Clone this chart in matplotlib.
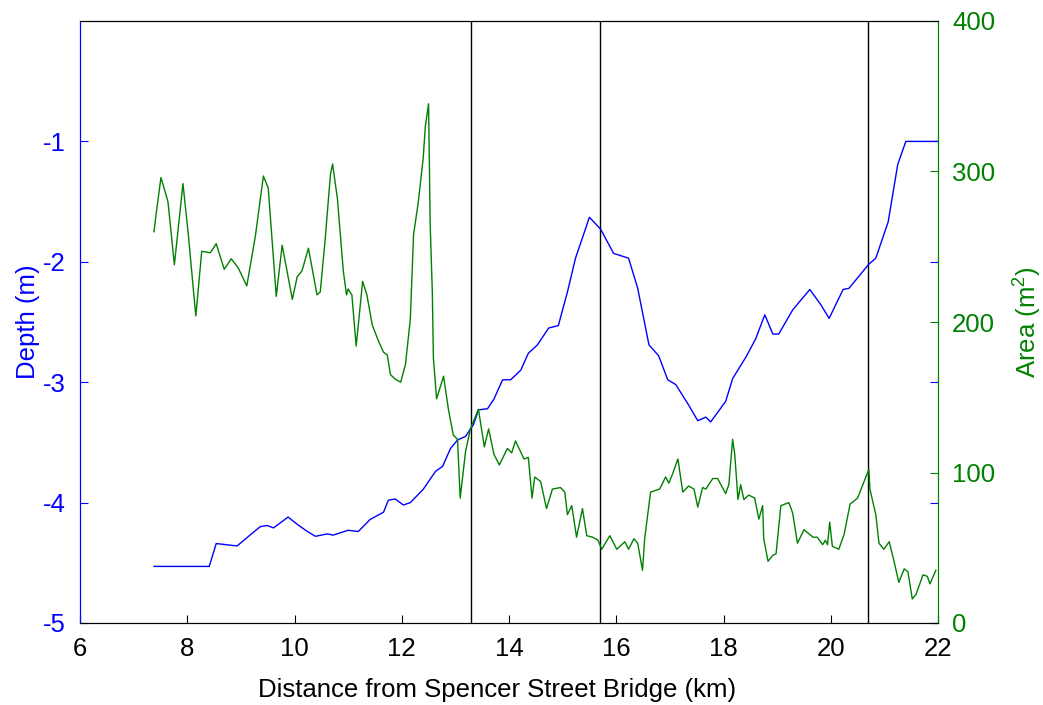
import matplotlib
matplotlib.use("Agg")
import matplotlib.pyplot as plt

plt.rcParams['font.family'] = ['Liberation Sans', 'DejaVu Sans']
plt.rcParams['mathtext.default'] = 'regular'
plt.rcParams['axes.unicode_minus'] = False

# depth profile (left axis)
depth_km = [7.38, 8.41, 8.54, 8.93, 9.17, 9.36, 9.49, 9.61, 9.88, 10.05,
            10.24, 10.39, 10.61, 10.72, 11.0, 11.19, 11.41, 11.66, 11.75, 11.88,
            12.03, 12.16, 12.40, 12.63, 12.76, 12.91, 13.04, 13.19, 13.34, 13.43,
            13.60, 13.72, 13.88, 14.03, 14.22, 14.36, 14.53, 14.74, 14.92, 15.09,
            15.24, 15.50, 15.71, 15.95, 16.23, 16.40, 16.61, 16.79, 16.96, 17.11,
            17.35, 17.52, 17.67, 17.76, 18.04, 18.17, 18.42, 18.60, 18.77, 18.92,
            19.03, 19.29, 19.42, 19.61, 19.82, 19.97, 20.23, 20.34, 20.71, 20.84,
            21.07, 21.25, 21.40, 22.0]
depth_m = [-4.53, -4.53, -4.34, -4.36, -4.27, -4.20, -4.19, -4.21, -4.12, -4.18,
           -4.24, -4.28, -4.26, -4.27, -4.23, -4.24, -4.14, -4.08, -3.98, -3.97,
           -4.02, -4.00, -3.89, -3.74, -3.70, -3.55, -3.48, -3.45, -3.35, -3.23,
           -3.22, -3.14, -2.98, -2.98, -2.90, -2.76, -2.69, -2.55, -2.53, -2.25,
           -1.97, -1.63, -1.73, -1.93, -1.97, -2.22, -2.69, -2.78, -2.98, -3.02,
           -3.19, -3.32, -3.29, -3.33, -3.16, -2.97, -2.79, -2.64, -2.44, -2.60,
           -2.60, -2.40, -2.33, -2.23, -2.36, -2.47, -2.23, -2.22, -2.02, -1.97,
           -1.67, -1.19, -1.0, -1.0]

# cross-section area (right axis)
area_km = [7.38, 7.42, 7.51, 7.64, 7.76, 7.92, 8.02, 8.16, 8.27, 8.43,
           8.54, 8.69, 8.82, 8.95, 9.11, 9.27, 9.42, 9.51, 9.66, 9.77,
           9.96, 10.05, 10.14, 10.26, 10.42, 10.48, 10.57, 10.67, 10.71, 10.80,
           10.91, 10.97, 11.0, 11.07, 11.15, 11.19, 11.27, 11.35, 11.45, 11.57,
           11.66, 11.73, 11.79, 11.88, 11.98, 12.07, 12.16, 12.22, 12.31, 12.40,
           12.44, 12.50, 12.53, 12.57, 12.59, 12.65, 12.78, 12.87, 12.96, 13.04,
           13.09, 13.19, 13.28, 13.43, 13.54, 13.62, 13.72, 13.82, 13.97, 14.05,
           14.12, 14.28, 14.36, 14.43, 14.48, 14.59, 14.70, 14.81, 14.96, 15.04,
           15.09, 15.17, 15.26, 15.37, 15.45, 15.56, 15.66, 15.73, 15.88, 16.01,
           16.16, 16.23, 16.33, 16.40, 16.49, 16.53, 16.64, 16.81, 16.92, 16.98,
           17.05, 17.15, 17.24, 17.35, 17.45, 17.52, 17.61, 17.67, 17.80, 17.89,
           18.04, 18.10, 18.17, 18.21, 18.27, 18.32, 18.38, 18.47, 18.58, 18.66,
           18.73, 18.75, 18.83, 18.92, 18.98, 19.07, 19.22, 19.29, 19.38, 19.50,
           19.67, 19.75, 19.85, 19.90, 19.94, 19.98, 20.03, 20.15, 20.25, 20.36,
           20.50, 20.60, 20.71, 20.73, 20.84, 20.90, 20.99, 21.09, 21.18, 21.27,
           21.37, 21.44, 21.52, 21.59, 21.72, 21.80, 21.85, 21.96]
area_m2 = [260, 272, 296, 280, 238, 292, 258, 204, 247, 246,
           252, 235, 242, 236, 224, 257, 297, 289, 217, 251,
           215, 230, 234, 249, 218, 220, 254, 298, 305, 282,
           234, 218, 222, 218, 184, 198, 227, 218, 198, 187,
           180, 178, 165, 162, 160, 172, 202, 258, 280, 309,
           330, 345, 265, 220, 176, 149, 164, 142, 125, 122,
           83, 114, 129, 142, 117, 129, 112, 105, 116, 113,
           121, 109, 110, 83, 97, 94, 76, 89, 90, 87,
           72, 78, 57, 76, 58, 57, 55, 49, 58, 49,
           54, 49, 56, 53, 35, 56, 87, 89, 97, 93,
           99, 109, 87, 91, 89, 77, 90, 89, 96, 96,
           86, 92, 122, 112, 82, 92, 82, 85, 83, 69,
           78, 56, 41, 45, 46, 78, 80, 73, 53, 62,
           57, 57, 52, 55, 52, 67, 51, 49, 59, 79,
           83, 92, 102, 89, 72, 53, 49, 54, 41, 27,
           36, 34, 16, 19, 32, 31, 26, 35]

# section boundaries
markers_km = [13.3, 15.7, 20.7]

x_ticks = [6, 8, 10, 12, 14, 16, 18, 20, 22]
depth_ticks = [-5, -4, -3, -2, -1]
area_ticks = [0, 100, 200, 300, 400]

blue = '#0000ff'
green = '#008000'
fs = 18.5

fig = plt.figure(figsize=(10.43, 7.05), dpi=100)
ax1 = fig.add_axes([80 / 1043, 82 / 705, 858 / 1043, 602 / 705])
ax2 = ax1.twinx()

for k in markers_km:
    ax1.axvline(k, color='black', linewidth=1.0)

ax1.plot(depth_km, depth_m, color=blue, linewidth=1.0)
ax2.plot(area_km, area_m2, color=green, linewidth=1.0)

ax1.set_xlim(6, 22)
ax1.set_ylim(-5, 0)
ax2.set_ylim(0, 400)
ax1.set_xticks(x_ticks)
ax1.set_yticks(depth_ticks)
ax2.set_yticks(area_ticks)

ax1.tick_params(axis='x', direction='in', length=6, labelsize=fs, pad=10)
ax1.tick_params(axis='y', direction='in', length=6, labelsize=fs, pad=10,
                colors=blue, right=True)
ax2.tick_params(axis='y', direction='in', length=6, labelsize=fs, pad=10,
                colors=green)

ax1.spines['left'].set_color(blue)
ax2.spines['left'].set_color(blue)
ax2.spines['right'].set_color(green)
ax1.spines['right'].set_color(green)

ax1.set_xlabel('Distance from Spencer Street Bridge (km)', fontsize=fs)
ax1.xaxis.set_label_coords(0.486, -0.092)
ax1.set_ylabel('Depth (m)', fontsize=fs, color=blue, labelpad=2)
ax2.set_ylabel('Area (m$^{2}$)', fontsize=fs, color=green, labelpad=12)

plt.savefig('out.png', dpi=100)
